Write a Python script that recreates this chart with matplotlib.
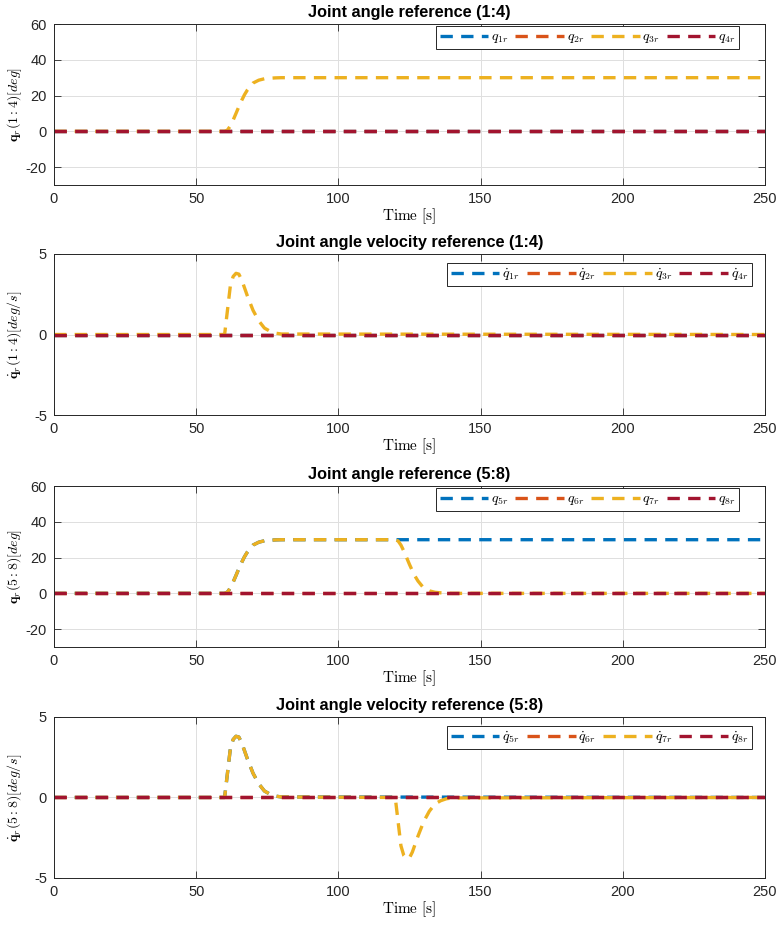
import numpy as np
import matplotlib
matplotlib.use("Agg")
import matplotlib.pyplot as plt

plt.rcParams['font.family'] = ['Liberation Sans', 'DejaVu Sans']
plt.rcParams['mathtext.fontset'] = 'cm'
plt.rcParams['axes.unicode_minus'] = False

# matlab default line colours
c_blue = '#0072BD'
c_orange = '#D95319'
c_yellow = '#EDB120'
c_red = '#A2142F'

# time axis of the references [s]
t_end = 250

# joint going 0 -> 30 deg around t = 60 s
t_up = [0, 60, 61, 62, 63, 64, 65, 66, 67, 68, 70, 72, 74, 76, 78, 80, 250]
q_up = [0, 0, 0.7, 3.0, 6.3, 10.0, 13.8, 17.3, 20.5, 23.1, 27.0, 28.6, 29.4, 29.7, 29.9, 30, 30]
qd_up = [0, 0, 1.5, 3.0, 3.6, 3.8, 3.75, 3.4, 2.9, 2.4, 1.5, 0.85, 0.4, 0.2, 0.08, 0.03, 0]

# joint 7 goes back 30 -> 0 deg around t = 120 s
t_updown = [0, 60, 61, 62, 63, 64, 65, 66, 67, 68, 70, 72, 74, 76, 78, 80,
            120, 121, 122, 123, 124, 125, 126, 127, 128, 130, 132, 134, 136, 138, 140, 250]
q_updown = [0, 0, 0.7, 3.0, 6.3, 10.0, 13.8, 17.3, 20.5, 23.1, 27.0, 28.6, 29.4, 29.7, 29.9, 30,
            30, 29.3, 27.0, 23.7, 20.0, 16.2, 12.7, 9.5, 6.9, 3.0, 1.4, 0.6, 0.3, 0.1, 0, 0]
qd_updown = [0, 0, 1.5, 3.0, 3.6, 3.8, 3.75, 3.4, 2.9, 2.4, 1.5, 0.85, 0.4, 0.2, 0.08, 0.03,
             0, -1.5, -3.0, -3.6, -3.8, -3.75, -3.4, -2.9, -2.4, -1.5, -0.85, -0.4, -0.2, -0.08, -0.03, 0]

t_flat = [0, 250]
zero = [0, 0]

pos_14 = [(t_flat, zero), (t_flat, zero), (t_up, q_up), (t_flat, zero)]
vel_14 = [(t_flat, zero), (t_flat, zero), (t_up, qd_up), (t_flat, zero)]
pos_58 = [(t_up, q_up), (t_flat, zero), (t_updown, q_updown), (t_flat, zero)]
vel_58 = [(t_up, qd_up), (t_flat, zero), (t_updown, qd_updown), (t_flat, zero)]

colors = [c_blue, c_orange, c_yellow, c_red]

fig = plt.figure(figsize=(7.8, 9.27), dpi=100)

left, width, height = 0.0692, 0.9115, 0.1737
bottoms = [0.8004, 0.5523, 0.3020, 0.0529]

panels = [
    ('Joint angle reference (1:4)', pos_14, r'$\mathbf{q}_r(1:4)[deg]$',
     [r'$q_{%dr}$' % i for i in range(1, 5)], (-30, 60), [-20, 0, 20, 40, 60], (0.963, 0.988)),
    ('Joint angle velocity reference (1:4)', vel_14, r'$\dot{\mathbf{q}}_r(1:4)[deg/s]$',
     [r'$\dot{q}_{%dr}$' % i for i in range(1, 5)], (-5, 5), [-5, 0, 5], (0.982, 0.944)),
    ('Joint angle reference (5:8)', pos_58, r'$\mathbf{q}_r(5:8)[deg]$',
     [r'$q_{%dr}$' % i for i in range(5, 9)], (-30, 60), [-20, 0, 20, 40, 60], (0.963, 0.988)),
    ('Joint angle velocity reference (5:8)', vel_58, r'$\dot{\mathbf{q}}_r(5:8)[deg/s]$',
     [r'$\dot{q}_{%dr}$' % i for i in range(5, 9)], (-5, 5), [-5, 0, 5], (0.982, 0.944)),
]

for b, (title, series, ylab, labels, ylim, yticks, anchor) in zip(bottoms, panels):
    ax = fig.add_axes([left, b, width, height])
    for (t, y), col, lab in zip(series, colors, labels):
        ax.plot(t, y, color=col, lw=2.4, dashes=(3.7, 2.5), label=lab)
    ax.set_xlim(0, t_end)
    ax.set_ylim(*ylim)
    ax.set_xticks([0, 50, 100, 150, 200, 250])
    ax.set_yticks(yticks)
    ax.grid(True, color='#dfdfdf', lw=0.7)
    ax.set_axisbelow(True)
    ax.tick_params(direction='in', length=5, width=0.6, colors='#262626',
                   labelsize=10.5, top=True, right=True, pad=5)
    for s in ax.spines.values():
        s.set_color('#262626')
        s.set_linewidth(0.7)
    ax.set_title(title, fontsize=11.7, fontweight='bold', pad=5)
    ax.set_xlabel(r'$\mathrm{Time\ [s]}$', fontsize=11, labelpad=0)
    ax.set_ylabel(ylab, fontsize=10)
    ax.yaxis.set_label_coords(-0.042, 0.5)
    leg = ax.legend(loc='upper right', bbox_to_anchor=anchor, ncol=4, fontsize=10,
                    handlelength=3.5, handletextpad=0.2, columnspacing=0.5,
                    borderpad=0.25, borderaxespad=0, fancybox=False, framealpha=1)
    leg.get_frame().set_edgecolor('#262626')
    leg.get_frame().set_linewidth(0.7)

fig.savefig('out.png', dpi=100)
